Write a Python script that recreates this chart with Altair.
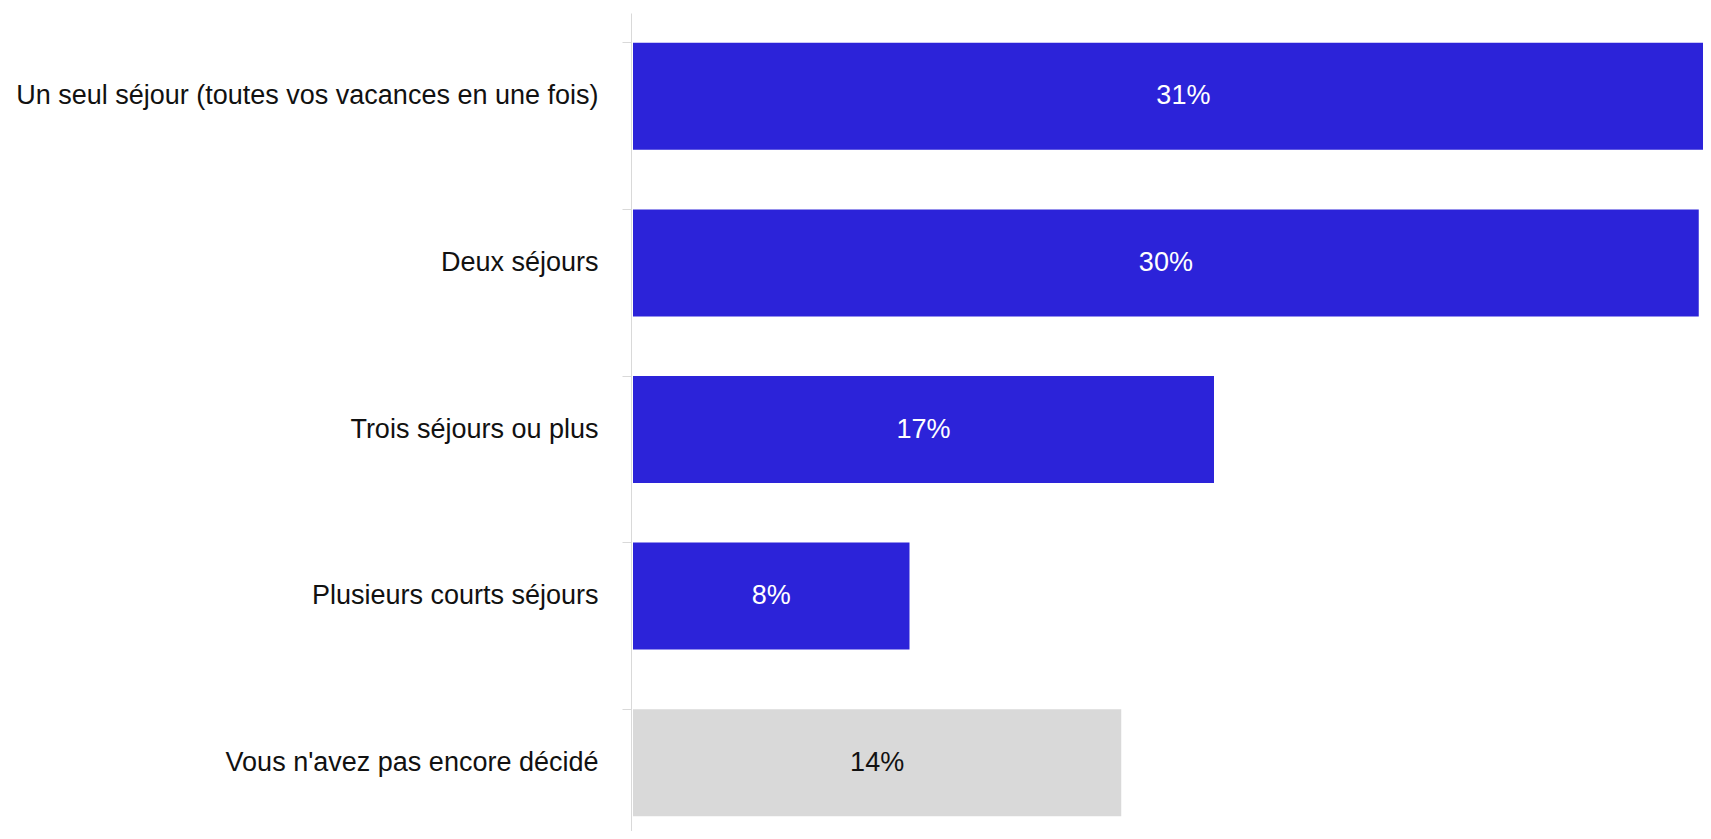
import altair as alt
import pandas as pd

categories = [
    "Un seul séjour (toutes vos vacances en une fois)",
    "Deux séjours",
    "Trois séjours ou plus",
    "Plusieurs courts séjours",
    "Vous n'avez pas encore décidé",
]
values = [31.45, 30.45, 16.6, 7.9, 13.95]
bar_colors = ["#2C23D9", "#2C23D9", "#2C23D9", "#2C23D9", "#D9D9D9"]
text_colors = ["#FFFFFF", "#FFFFFF", "#FFFFFF", "#FFFFFF", "#111111"]

df = pd.DataFrame({
    "cat": categories,
    "value": values,
    "bar_color": bar_colors,
    "text_color": text_colors,
})

FONT = "Liberation Sans"
FS = 27

# 35 px per percentage point; plot area 1070 px wide
xscale = alt.Scale(domain=[0, 30.5714], clamp=True, nice=False, zero=True)
yscale = alt.Scale(paddingInner=0.358, paddingOuter=0.179, range=[0, 833])

y_axis = alt.Axis(
    bandPosition=0,
    domainColor="#D9D9D9",
    tickColor="#D9D9D9",
    tickSize=9,
    labelPadding=24,
    labelFont=FONT,
    labelFontSize=FS,
    labelColor="#111111",
    labelLimit=800,
    offset=2,
)

bars = alt.Chart(df).mark_bar().encode(
    x=alt.X("value:Q", scale=xscale, axis=None),
    y=alt.Y("cat:N", sort=categories, title=None, scale=yscale, axis=y_axis),
    color=alt.Color("bar_color:N", scale=None),
)

text = alt.Chart(df).transform_calculate(
    mid="datum.value / 2",
    label="format(datum.value, '.0f') + '%'",
).mark_text(font=FONT, fontSize=FS).encode(
    x=alt.X("mid:Q", scale=xscale, axis=None),
    y=alt.Y("cat:N", sort=categories, title=None),
    text="label:N",
    color=alt.Color("text_color:N", scale=None),
)

chart = alt.layer(bars, text).properties(
    width=1070,
    height=818,
    autosize=alt.AutoSizeParams(type="none"),
    padding={"left": 625, "top": 5, "right": 0, "bottom": 0},
    background="white",
).configure_view(stroke=None)

chart.save("out.html", embed_options={"renderer": "svg", "actions": False})
